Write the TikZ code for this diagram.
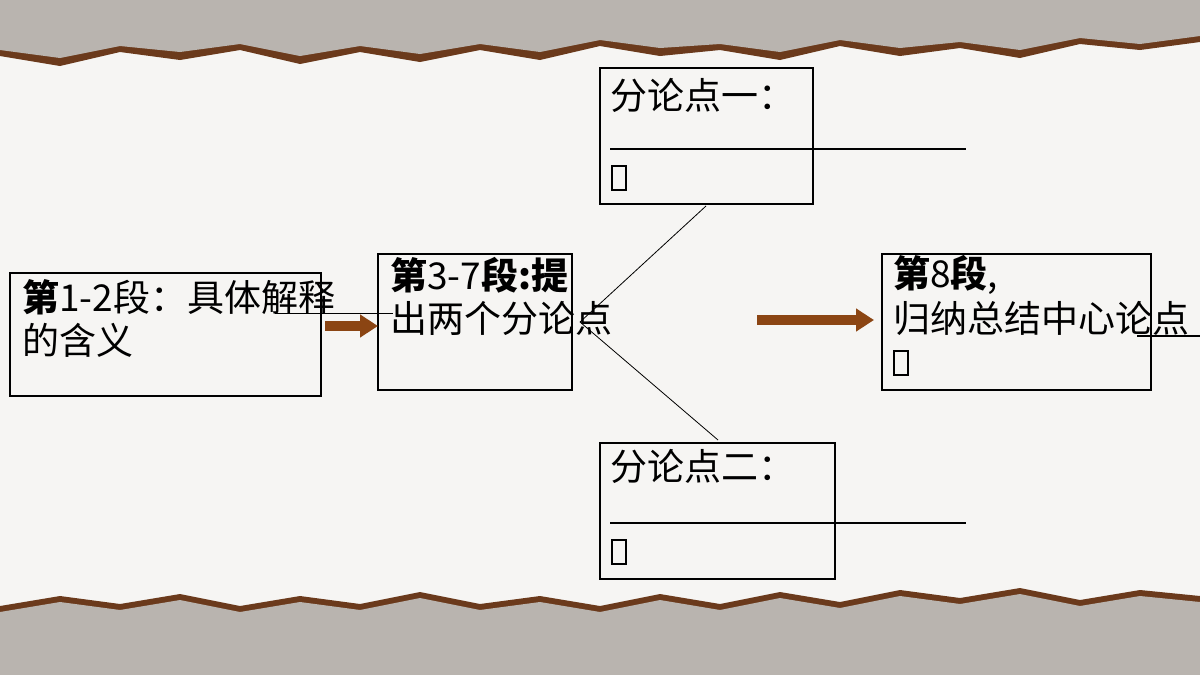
\documentclass[tikz,border=0pt]{standalone}
\usepackage{fontspec}
\newfontfamily\cjk{Noto Sans CJK SC}
\usetikzlibrary{arrows.meta}
\definecolor{paper}{HTML}{F6F5F3}
\definecolor{torn}{HTML}{B9B4AF}
\definecolor{edge}{HTML}{6B3A1C}
\definecolor{arr}{HTML}{8B4513}
\tikzset{box/.style={draw,line width=0.6pt},
 txt/.style={anchor=west,inner sep=0pt,font=\cjk\fontsize{18.5}{22}\selectfont},
 sq/.style={draw,line width=0.8pt,minimum width=7pt,minimum height=12pt,inner sep=0pt},
 big/.style={-{Triangle[length=9pt,width=11pt]},line width=5pt,arr}}
\begin{document}
\begin{tikzpicture}[x=0.5pt,y=-0.5pt]
\useasboundingbox (0,0) rectangle (1200,675);
\fill[paper] (0,0) rectangle (1200,675);
% top torn band
\fill[edge] (0,0) -- (1200,0) -- (1200,42) -- (1140,50) -- (1080,44) -- (1020,58) -- (960,48) -- (900,56) -- (840,46) -- (780,60) -- (720,50) -- (660,56) -- (600,46) -- (540,60) -- (480,50) -- (420,62) -- (360,52) -- (300,64) -- (240,50) -- (180,60) -- (120,52) -- (60,66) -- (0,56) -- cycle;
\fill[torn] (0,0) -- (1200,0) -- (1200,36) -- (1140,44) -- (1080,38) -- (1020,50) -- (960,42) -- (900,48) -- (840,40) -- (780,52) -- (720,44) -- (660,48) -- (600,40) -- (540,52) -- (480,44) -- (420,54) -- (360,46) -- (300,56) -- (240,44) -- (180,52) -- (120,46) -- (60,58) -- (0,50) -- cycle;
% bottom torn band
\fill[edge] (0,675) -- (1200,675) -- (1200,596) -- (1140,590) -- (1080,600) -- (1020,588) -- (960,598) -- (900,590) -- (840,602) -- (780,592) -- (720,604) -- (660,594) -- (600,606) -- (540,596) -- (480,604) -- (420,592) -- (360,604) -- (300,596) -- (240,606) -- (180,594) -- (120,604) -- (60,596) -- (0,606) -- cycle;
\fill[torn] (0,675) -- (1200,675) -- (1200,602) -- (1140,596) -- (1080,606) -- (1020,594) -- (960,604) -- (900,596) -- (840,608) -- (780,598) -- (720,610) -- (660,600) -- (600,612) -- (540,602) -- (480,610) -- (420,598) -- (360,610) -- (300,602) -- (240,612) -- (180,600) -- (120,610) -- (60,602) -- (0,612) -- cycle;
% boxes
\draw[box] (10,273) rectangle (321,396);
\node[txt] (t1) at (22,297) {\textbf{第}1-2段：具体解释};
\node[txt] (t1b) at (22,340) {的含义};
\draw[box] (378,254) rectangle (572,390);
\node[txt] (t2) at (390,275) {\textbf{第}3-7\textbf{段:提}};
\node[txt] (t2b) at (390,318) {出两个分论点};
\draw[box] (600,68) rectangle (813,204);
\node[txt] (t3) at (610,95) {分论点一：};
\draw[line width=0.8pt] (610,149) -- (966,149);
\node[sq] (s3) at (619,178) {};
\draw[box] (600,443) rectangle (835,579);
\node[txt] (t4) at (610,466) {分论点二：};
\draw[line width=0.8pt] (610,523) -- (966,523);
\node[sq] (s4) at (619,552) {};
\draw[box] (882,254) rectangle (1151,390);
\node[txt] (t5) at (893,275) {\textbf{第}8\textbf{段},};
\node[txt] (t5b) at (893,318) {归纳总结中心论点};
\draw[line width=0.6pt] (1137,336) -- (1200,336);
\node[sq] (s5) at (901,363) {};
% connectors
\coordinate (c) at (580,322);
\coordinate (up) at (706,206);
\coordinate (dn) at (718,440);
\draw (c) -- (up);
\draw (c) -- (dn);
\draw (275,313) -- (393,313);
\draw[big] (325,326) -- (378,326);
\draw[big] (757,320) -- (874,320);
\end{tikzpicture}
\end{document}
